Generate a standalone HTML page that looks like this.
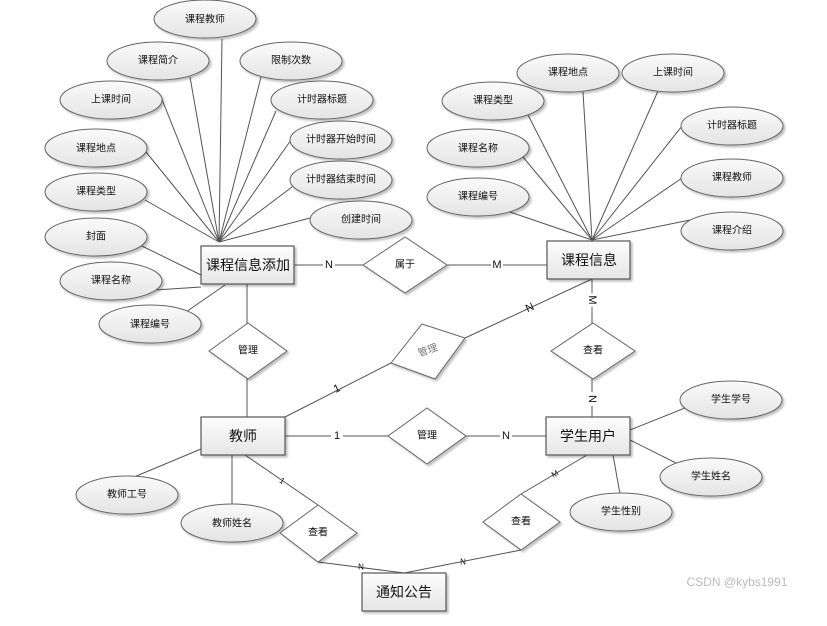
<!DOCTYPE html>
<html><head><meta charset="utf-8"><style>
html,body{margin:0;padding:0;background:#fff;}
svg{display:block;}
text{font-family:"Liberation Sans","Noto Sans CJK SC",sans-serif;text-anchor:middle;dominant-baseline:central;fill:#111;}
.e{fill:url(#eg);stroke:#666;stroke-width:1;}
.r{fill:url(#rg);stroke:#555;stroke-width:1.2;}
.d{fill:#fff;stroke:#666;stroke-width:1;}
.l{stroke:#555;stroke-width:1;fill:none;}
.s{font-size:10px;}
.b{font-size:14px;}
.c{font-size:11px;}
</style></head><body>
<svg width="827" height="626" viewBox="0 0 827 626" xmlns="http://www.w3.org/2000/svg">
<defs>
<linearGradient id="eg" x1="0" y1="0" x2="0" y2="1"><stop offset="0" stop-color="#fafafa"/><stop offset="1" stop-color="#e4e4e4"/></linearGradient>
<linearGradient id="rg" x1="0" y1="0" x2="0" y2="1"><stop offset="0" stop-color="#fdfdfd"/><stop offset="1" stop-color="#e6e6e6"/></linearGradient>
<filter id="sh" x="-10%" y="-10%" width="130%" height="140%"><feDropShadow dx="2" dy="2" stdDeviation="1" flood-color="#000" flood-opacity="0.25"/></filter>
</defs>
<g class="l">
<!-- left hub lines -->
<line x1="222" y1="39" x2="219" y2="242"/>
<line x1="190" y1="77" x2="219" y2="242"/>
<line x1="261" y1="77" x2="219" y2="242"/>
<line x1="161" y1="97" x2="219" y2="242"/>
<line x1="276" y1="111" x2="219" y2="242"/>
<line x1="146" y1="152" x2="219" y2="242"/>
<line x1="291" y1="140" x2="219" y2="242"/>
<line x1="145" y1="200" x2="219" y2="242"/>
<line x1="292" y1="187" x2="219" y2="242"/>
<line x1="310" y1="218" x2="219" y2="242"/>
<line x1="142" y1="246" x2="201" y2="275"/>
<line x1="155" y1="290" x2="201" y2="287"/>
<line x1="186" y1="312" x2="225" y2="285"/>
<!-- right hub lines -->
<line x1="583" y1="92" x2="592" y2="240"/>
<line x1="658" y1="91" x2="592" y2="240"/>
<line x1="528" y1="115" x2="592" y2="240"/>
<line x1="682" y1="126" x2="592" y2="240"/>
<line x1="523" y1="157" x2="592" y2="240"/>
<line x1="682" y1="178" x2="592" y2="240"/>
<line x1="510" y1="212" x2="592" y2="240"/>
<line x1="690" y1="220" x2="592" y2="240"/>
<!-- relations -->
<line x1="294" y1="265" x2="547" y2="265"/>
<line x1="247" y1="284" x2="247" y2="417"/>
<line x1="285" y1="417" x2="391" y2="363"/>
<line x1="465" y1="338" x2="592" y2="279"/>
<line x1="592" y1="279" x2="592" y2="417"/>
<line x1="285" y1="436" x2="546" y2="436"/>
<line x1="134" y1="477" x2="201" y2="449"/>
<line x1="232" y1="455" x2="232" y2="505"/>
<line x1="245" y1="455" x2="318" y2="505"/>
<line x1="318" y1="562" x2="404" y2="573"/>
<line x1="521" y1="550" x2="404" y2="573"/>
<line x1="587" y1="455" x2="521" y2="494"/>
<line x1="630" y1="430" x2="700" y2="402"/>
<line x1="630" y1="440" x2="690" y2="470"/>
<line x1="613" y1="455" x2="620" y2="494"/>
</g>
<g filter="url(#sh)">
<!-- left ellipses -->
<ellipse class="e" cx="205" cy="19" rx="51" ry="19"/>
<ellipse class="e" cx="158" cy="61" rx="51" ry="19"/>
<ellipse class="e" cx="291" cy="61" rx="51" ry="19"/>
<ellipse class="e" cx="111" cy="100" rx="51" ry="19"/>
<ellipse class="e" cx="322" cy="100" rx="51" ry="19"/>
<ellipse class="e" cx="96" cy="148" rx="51" ry="19"/>
<ellipse class="e" cx="341" cy="140" rx="51" ry="19"/>
<ellipse class="e" cx="96" cy="192" rx="51" ry="19"/>
<ellipse class="e" cx="341" cy="180" rx="51" ry="19"/>
<ellipse class="e" cx="96" cy="237" rx="51" ry="19"/>
<ellipse class="e" cx="361" cy="220" rx="51" ry="19"/>
<ellipse class="e" cx="111" cy="281" rx="51" ry="19"/>
<ellipse class="e" cx="150" cy="324" rx="51" ry="19"/>
<!-- right ellipses -->
<ellipse class="e" cx="568" cy="73" rx="51" ry="19"/>
<ellipse class="e" cx="673" cy="73" rx="51" ry="19"/>
<ellipse class="e" cx="493" cy="101" rx="51" ry="19"/>
<ellipse class="e" cx="732" cy="126" rx="51" ry="19"/>
<ellipse class="e" cx="478" cy="148" rx="51" ry="19"/>
<ellipse class="e" cx="732" cy="178" rx="51" ry="19"/>
<ellipse class="e" cx="478" cy="197" rx="51" ry="19"/>
<ellipse class="e" cx="732" cy="231" rx="51" ry="19"/>
<!-- bottom ellipses -->
<ellipse class="e" cx="127" cy="495" rx="51" ry="19"/>
<ellipse class="e" cx="232" cy="523" rx="51" ry="19"/>
<ellipse class="e" cx="731" cy="400" rx="51" ry="19"/>
<ellipse class="e" cx="711" cy="477" rx="51" ry="19"/>
<ellipse class="e" cx="621" cy="512" rx="51" ry="19"/>
<!-- diamonds -->
<polygon class="d" points="405,237 447,265 405,293 363,265"/>
<polygon class="d" points="248,323 287,351 248,379 209,351"/>
<polygon class="d" points="422,324 465,338 435,379 391,363"/>
<polygon class="d" points="593,323 635,351 593,379 551,351"/>
<polygon class="d" points="427,408 466,436 427,464 388,436"/>
<polygon class="d" points="318,505 357,533 318,562 280,533"/>
<polygon class="d" points="521,494 560,522 521,550 483,522"/>
<!-- rects -->
<rect class="r" x="201" y="246" width="93" height="38"/>
<rect class="r" x="547" y="241" width="83" height="38"/>
<rect class="r" x="201" y="417" width="84" height="38"/>
<rect class="r" x="546" y="417" width="84" height="38"/>
<rect class="r" x="362" y="573" width="84" height="38"/>
</g>
<g class="s">
<text x="205" y="20">课程教师</text>
<text x="158" y="61">课程简介</text>
<text x="291" y="61">限制次数</text>
<text x="111" y="100">上课时间</text>
<text x="322" y="100">计时器标题</text>
<text x="96" y="149">课程地点</text>
<text x="341" y="140">计时器开始时间</text>
<text x="96" y="192">课程类型</text>
<text x="341" y="180">计时器结束时间</text>
<text x="96" y="237">封面</text>
<text x="361" y="220">创建时间</text>
<text x="111" y="281">课程名称</text>
<text x="150" y="325">课程编号</text>
<text x="568" y="73">课程地点</text>
<text x="673" y="73">上课时间</text>
<text x="493" y="101">课程类型</text>
<text x="732" y="126">计时器标题</text>
<text x="478" y="149">课程名称</text>
<text x="732" y="178">课程教师</text>
<text x="478" y="197">课程编号</text>
<text x="732" y="231">课程介绍</text>
<text x="127" y="495">教师工号</text>
<text x="232" y="524">教师姓名</text>
<text x="731" y="400">学生学号</text>
<text x="711" y="477">学生姓名</text>
<text x="621" y="512">学生性别</text>
<text x="405" y="265">属于</text>
<text x="248" y="351">管理</text>
<text x="428" y="351" transform="rotate(-20 428 351)" fill="#777" style="fill:#777">管理</text>
<text x="593" y="351">查看</text>
<text x="427" y="436">管理</text>
<text x="318" y="533">查看</text>
<text x="521" y="522">查看</text>
</g>
<g class="b">
<text x="248" y="265">课程信息添加</text>
<text x="589" y="260">课程信息</text>
<text x="243" y="436">教师</text>
<text x="588" y="436">学生用户</text>
<text x="404" y="592">通知公告</text>
</g>
<g class="c">
<rect x="323" y="258" width="12" height="14" fill="#fff"/><text x="329" y="265">N</text>
<rect x="491" y="258" width="12" height="14" fill="#fff"/><text x="497" y="265">M</text>
<text x="530" y="308" transform="rotate(-25 530 308)">N</text>
<text x="337" y="389" transform="rotate(-25 337 389)">1</text>
<rect x="586" y="293" width="12" height="14" fill="#fff"/><text x="592" y="300" transform="rotate(90 592 300)">M</text>
<rect x="586" y="392" width="12" height="14" fill="#fff"/><text x="592" y="399" transform="rotate(90 592 399)">N</text>
<rect x="331" y="429" width="12" height="14" fill="#fff"/><text x="337" y="436">1</text>
<rect x="500" y="429" width="12" height="14" fill="#fff"/><text x="506" y="436">N</text>
</g>
<g style="font-size:8px">
<text x="282" y="481" transform="rotate(35 282 481)">1</text>
<text x="361" y="567">N</text>
<text x="463" y="562">N</text>
<text x="555" y="474" transform="rotate(-30 555 474)">M</text>
</g>
<text x="737" y="582" style="font-size:12px;fill:#bbb">CSDN @kybs1991</text>
</svg>
</body></html>
